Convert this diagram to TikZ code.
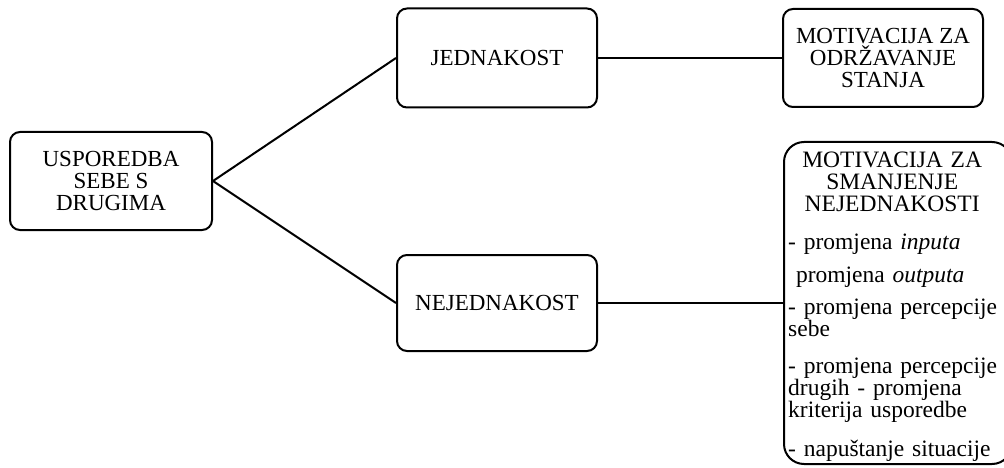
\documentclass[tikz,border=0pt]{standalone}
\usepackage{fontspec}
\setmainfont{Liberation Serif}
\begin{document}
\begin{tikzpicture}[x=1pt,y=-1pt,
  box/.style={draw,line width=2pt,rounded corners=10pt,align=center,
    font=\fontsize{23}{22}\selectfont,inner sep=0pt},
  link/.style={line width=2pt}]
\useasboundingbox (0,0) rectangle (1004,468);
\node[box,minimum width=202pt,minimum height=98pt] (usp) at (111,181) {USPOREDBA\\SEBE S\\DRUGIMA};
\node[box,minimum width=200pt,minimum height=99pt] (jed) at (497,58) {JEDNAKOST};
\node[box,minimum width=200pt,minimum height=96pt] (nej) at (497,303) {NEJEDNAKOST};
\node[box,minimum width=200pt,minimum height=98pt] (odr) at (883,58) {MOTIVACIJA ZA\\ODRŽAVANJE\\STANJA};
\node[draw,line width=2pt,rounded corners=20pt,minimum width=228pt,minimum height=322pt,inner sep=0pt] (sma) at (898,303) {};
\node[anchor=north west,text width=214pt,inner sep=0pt,align=left,
  font=\fontsize{23.5}{22}\selectfont] (txt) at (788,152) {%
  {\hspace*{-3pt}\parbox{214pt}{\centering MOTIVACIJA ZA\\SMANJENJE\\NEJEDNAKOSTI}\par}%
  \vspace{21pt}%
  - promjena \textit{inputa}\par\vspace{11pt}
  \ promjena \textit{outputa}\par\vspace{10pt}
  - promjena percepcije\\sebe\par\vspace{15pt}
  - promjena percepcije\\drugih - promjena\\kriterija usporedbe\par\vspace{17pt}
  - napuštanje situacije\par};
\draw[link] (usp.east) -- (jed.west);
\draw[link] (usp.east) -- (nej.west);
\draw[link] (jed.east) -- (odr.west);
\draw[link] (nej.east) -- (sma.west);
\end{tikzpicture}
\end{document}
